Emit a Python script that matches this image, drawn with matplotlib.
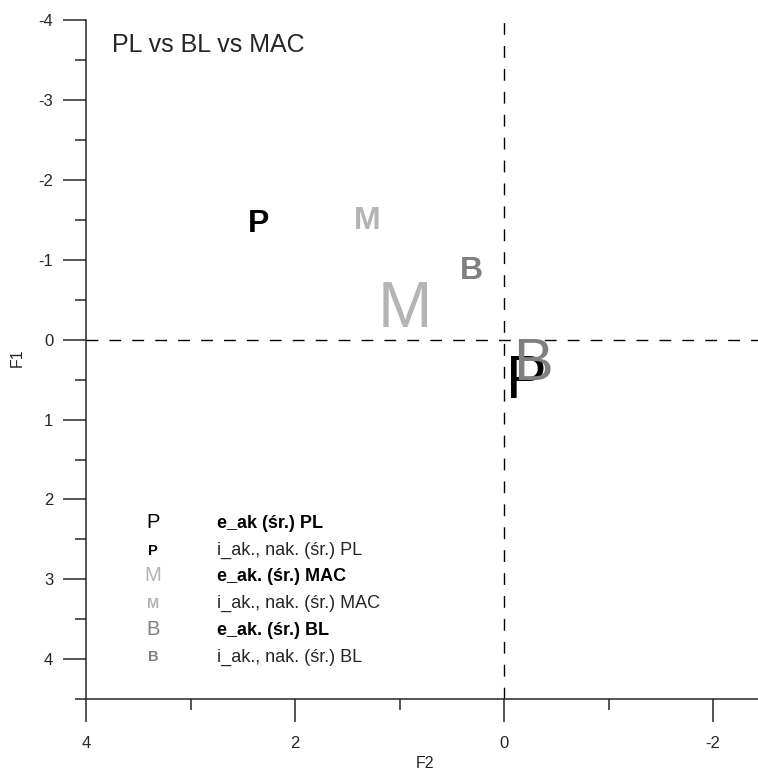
#PCA style letter plot: PL vs BL vs MAC
import numpy as np
import matplotlib.pyplot as plt
from matplotlib.ticker import MultipleLocator

plt.rcParams['font.family'] = ['Liberation Sans', 'DejaVu Sans']
plt.rcParams['axes.unicode_minus'] = False

#data (F2 on x, F1 on y)
groups = ['PL', 'MAC', 'BL']
letters = ['P', 'M', 'B']
e_ak_f2 = [-0.21, 0.95, -0.28]
e_ak_f1 = [0.45, -0.45, 0.23]
i_ak_f2 = [2.35, 1.31, 0.31]
i_ak_f1 = [-1.49, -1.53, -0.90]

legend_labels = ['e_ak (śr.) PL', 'i_ak., nak. (śr.) PL',
                 'e_ak. (śr.) MAC', 'i_ak., nak. (śr.) MAC',
                 'e_ak. (śr.) BL', 'i_ak., nak. (śr.) BL']

#styles
colors = ['#000000', '#b4b4b4', '#808080']
e_sizes = [44, 47, 43]
i_size = 23
dark = '#262626'

fig = plt.figure(figsize=(7.58, 7.72), dpi=100)
ax = fig.add_axes([0.11346, 0.09456, 0.88654, 0.8789])

#axes setup
ax.set_xlim(4, -2.43)
ax.set_ylim(4.5, -4)
ax.spines['top'].set_visible(False)
ax.spines['right'].set_visible(False)
for s in ['left', 'bottom']:
    ax.spines[s].set_color(dark)
    ax.spines[s].set_linewidth(1.1)

ax.xaxis.set_major_locator(MultipleLocator(2))
ax.xaxis.set_minor_locator(MultipleLocator(1))
ax.yaxis.set_major_locator(MultipleLocator(1))
ax.yaxis.set_minor_locator(MultipleLocator(0.5))
ax.tick_params(which='major', direction='out', length=16.5, width=1.1,
               color=dark, labelsize=12, labelcolor=dark)
ax.tick_params(which='minor', direction='out', length=8, width=1.1, color=dark)
ax.tick_params(axis='y', which='major', pad=7)
ax.tick_params(axis='x', which='major', pad=10)

#zero lines
ax.axhline(0, color='black', lw=1.0, dashes=(8.5, 8), zorder=1)
ax.axvline(0, color='black', lw=1.0, dashes=(8.5, 8), zorder=1)

#letters as markers, e_ak plain and large, i_ak bold and small
for i in range(len(groups)):
    ax.text(i_ak_f2[i], i_ak_f1[i], letters[i], color=colors[i], fontsize=i_size,
            fontweight='bold', ha='center', va='center_baseline', zorder=3)
for i in range(len(groups)):
    ax.text(e_ak_f2[i], e_ak_f1[i], letters[i], color=colors[i], fontsize=e_sizes[i],
            ha='center', va='center_baseline', zorder=3)

#title inside the axes
ax.text(0.0387, 0.9536, 'PL vs BL vs MAC', transform=ax.transAxes,
        fontsize=18, color=dark, ha='left', va='baseline')

#hand made legend
y0 = 0.252
dy = 0.0393
for k in range(len(legend_labels)):
    g = k // 2
    is_e = (k % 2 == 0)
    yy = y0 - k * dy
    ax.text(0.0997, yy, letters[g], transform=ax.transAxes, color=colors[g],
            fontsize=14.5 if is_e else 10.5, fontweight='normal' if is_e else 'bold',
            ha='center', va='baseline')
    ax.text(0.195, yy, legend_labels[k], transform=ax.transAxes,
            fontsize=13, fontweight='bold' if is_e else 'normal',
            color='black' if is_e else dark, ha='left', va='baseline')

#axis labels
fig.text(425 / 758, 1 - 764 / 772, 'F2', ha='center', va='center', fontsize=11.5, color=dark)
fig.text(17 / 758, 1 - 358 / 772, 'F1', rotation=90, ha='center', va='center',
         fontsize=11.5, color=dark)

fig.savefig('out.png', dpi=100)
